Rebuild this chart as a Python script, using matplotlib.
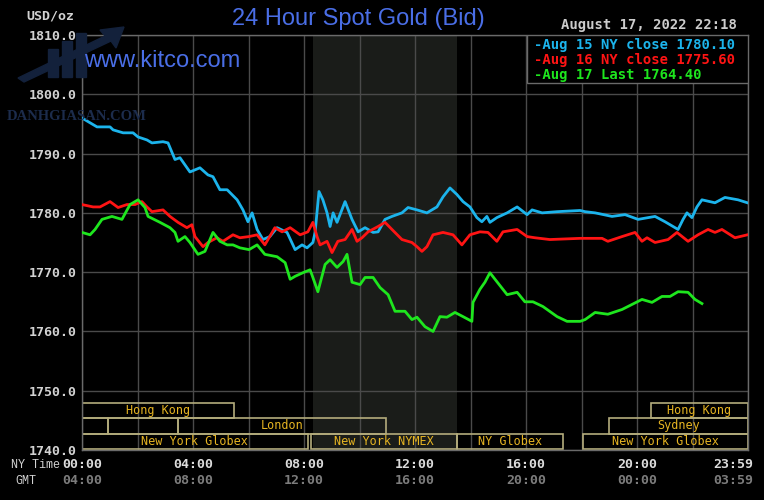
import matplotlib
matplotlib.use("Agg")
import matplotlib.pyplot as plt
from matplotlib.patches import Rectangle, Polygon
from matplotlib.transforms import blended_transform_factory

# ---- data (NY time in hours, price USD/oz) ----
aug15_hours = [0, 0.54, 1.01, 1.12, 1.48, 1.84, 2.02, 2.34, 2.52, 2.92, 3.10, 3.35, 3.53, 3.89,
               4.25, 4.54, 4.72, 4.97, 5.23, 5.59, 5.80, 5.98, 6.13, 6.31, 6.52, 6.77, 7.03,
               7.39, 7.68, 7.93, 8.11, 8.32, 8.40, 8.54, 8.68, 8.83, 8.94, 9.05, 9.19, 9.48,
               9.73, 9.95, 10.20, 10.49, 10.67, 10.92, 11.17, 11.53, 11.75, 12.07, 12.43,
               12.79, 13.01, 13.26, 13.51, 13.73, 13.98, 14.23, 14.41, 14.59, 14.70, 14.95,
               15.32, 15.68, 16.04, 16.22, 16.58, 17.12, 17.95, 18.13, 18.49, 19.10, 19.57,
               20.04, 20.65, 21.01, 21.48, 21.66, 21.80, 21.98, 22.16, 22.34, 22.81, 23.17,
               23.64, 23.98]
aug15_price = [1796.0, 1794.5, 1794.5, 1794.0, 1793.5, 1793.5, 1792.8, 1792.3, 1791.8, 1792.0,
               1791.8, 1789.0, 1789.3, 1786.9, 1787.6, 1786.4, 1786.1, 1783.9, 1783.9, 1782.2,
               1780.5, 1778.5, 1780.0, 1777.2, 1775.5, 1776.0, 1777.5, 1776.7, 1773.8, 1774.6,
               1774.1, 1775.0, 1776.7, 1783.6, 1782.2, 1780.0, 1777.7, 1780.0, 1778.4, 1781.9,
               1778.9, 1776.8, 1777.5, 1776.7, 1776.8, 1778.9, 1779.4, 1780.0, 1780.9, 1780.5,
               1780.0, 1781.0, 1782.7, 1784.2, 1783.1, 1781.9, 1781.0, 1779.2, 1778.5, 1779.4,
               1778.4, 1779.2, 1780.0, 1781.0, 1779.7, 1780.5, 1780.0, 1780.2, 1780.4, 1780.2,
               1780.0, 1779.4, 1779.7, 1778.9, 1779.4, 1778.5, 1777.2, 1778.9, 1780.0, 1779.2,
               1781.0, 1782.2, 1781.7, 1782.6, 1782.2, 1781.7]

aug16_hours = [0, 0.40, 0.65, 1.01, 1.30, 1.62, 1.91, 2.16, 2.34, 2.52, 2.92, 3.17, 3.46, 3.78,
               3.96, 4.07, 4.36, 4.54, 4.86, 5.08, 5.44, 5.69, 6.02, 6.31, 6.59, 6.95, 7.21,
               7.50, 7.86, 8.14, 8.32, 8.47, 8.58, 8.83, 9.01, 9.22, 9.48, 9.73, 9.91, 10.09,
               10.31, 10.67, 10.92, 11.17, 11.53, 11.89, 12.07, 12.25, 12.43, 12.65, 13.01,
               13.37, 13.69, 13.98, 14.34, 14.63, 14.95, 15.17, 15.68, 16.04, 16.32, 16.86,
               17.95, 18.23, 18.74, 18.95, 19.46, 19.93, 20.18, 20.36, 20.65, 21.12, 21.44,
               21.84, 22.20, 22.56, 22.81, 23.06, 23.53, 23.98]
aug16_price = [1781.4, 1781.0, 1781.0, 1781.9, 1780.9, 1781.4, 1781.4, 1781.9, 1781.0, 1780.2,
               1780.5, 1779.4, 1778.4, 1777.5, 1778.0, 1776.0, 1774.3, 1775.0, 1775.8, 1775.2,
               1776.3, 1775.8, 1776.0, 1776.3, 1774.6, 1777.5, 1776.8, 1777.5, 1776.3, 1776.8,
               1778.4, 1776.0, 1774.6, 1775.2, 1773.3, 1775.2, 1775.5, 1777.2, 1775.2, 1775.8,
               1776.8, 1777.7, 1778.4, 1777.2, 1775.5, 1775.0, 1774.3, 1773.5, 1774.3, 1776.3,
               1776.7, 1776.3, 1774.6, 1776.3, 1776.8, 1776.7, 1775.2, 1776.8, 1777.2, 1776.0,
               1775.8, 1775.5, 1775.7, 1775.7, 1775.7, 1775.2, 1776.0, 1776.7, 1775.2, 1775.8,
               1775.0, 1775.5, 1776.7, 1775.2, 1776.3, 1777.2, 1776.7, 1777.2, 1775.8, 1776.3]

aug17_hours = [0, 0.29, 0.47, 0.72, 1.08, 1.44, 1.73, 2.02, 2.27, 2.38, 2.81, 3.17, 3.35, 3.46,
               3.71, 3.89, 4.18, 4.43, 4.72, 4.97, 5.23, 5.44, 5.69, 6.02, 6.31, 6.59, 7.03,
               7.32, 7.50, 7.68, 7.96, 8.22, 8.32, 8.50, 8.76, 8.94, 9.19, 9.41, 9.55, 9.73,
               10.02, 10.20, 10.49, 10.74, 11.03, 11.28, 11.64, 11.89, 12.07, 12.36, 12.65,
               12.90, 13.15, 13.44, 13.73, 14.05, 14.09, 14.34, 14.52, 14.70, 14.95, 15.32,
               15.68, 15.96, 16.25, 16.61, 17.12, 17.48, 17.95, 18.13, 18.49, 18.95, 19.46,
               20.18, 20.54, 20.90, 21.19, 21.48, 21.84, 22.09, 22.34]
aug17_price = [1776.7, 1776.3, 1777.2, 1778.9, 1779.4, 1778.9, 1781.4, 1782.2, 1780.9, 1779.4,
               1778.4, 1777.5, 1776.7, 1775.2, 1776.0, 1775.0, 1773.0, 1773.5, 1776.7, 1775.2,
               1774.6, 1774.6, 1774.1, 1773.8, 1774.6, 1773.0, 1772.6, 1771.6, 1768.8, 1769.3,
               1769.9, 1770.4, 1769.1, 1766.7, 1771.3, 1772.1, 1770.8, 1771.8, 1773.0, 1768.3,
               1767.9, 1769.1, 1769.1, 1767.4, 1766.2, 1763.4, 1763.4, 1762.0, 1762.4, 1760.8,
               1760.0, 1762.5, 1762.4, 1763.2, 1762.5, 1761.7, 1764.9, 1767.1, 1768.3, 1769.9,
               1768.4, 1766.2, 1766.6, 1765.0, 1765.0, 1764.2, 1762.5, 1761.7, 1761.7, 1762.0,
               1763.2, 1762.9, 1763.7, 1765.4, 1764.9, 1765.9, 1765.9, 1766.7, 1766.6, 1765.4,
               1764.7]

legend_labels = ["-Aug 15 NY close 1780.10", "-Aug 16 NY close 1775.60", "-Aug 17 Last 1764.40"]
y_ticks = [1740, 1750, 1760, 1770, 1780, 1790, 1800, 1810]
ny_tick_hours = [0, 4, 8, 12, 16, 20, 23.98]
ny_tick_labels = ["00:00", "04:00", "08:00", "12:00", "16:00", "20:00", "23:59"]
gmt_tick_labels = ["04:00", "08:00", "12:00", "16:00", "20:00", "00:00", "03:59"]
nymex_open, nymex_close = 8.33, 13.5

# trading sessions: row 0 = bottom
session_labels = ["Hong Kong", "", "", "London", "New York Globex", "New York NYMEX",
                  "NY Globex", "New York Globex", "Sydney", "Hong Kong"]
session_row = [2, 1, 1, 1, 0, 0, 0, 0, 1, 2]
session_start = [0.0, 0.0, 0.94, 3.47, 0.0, 8.27, 13.5, 18.04, 18.99, 20.5]
session_end = [5.48, 0.94, 3.47, 10.97, 8.13, 13.5, 17.33, 24.0, 24.0, 24.0]

# ---- styling ----
BG = "black"
GRID = "#4a4a4a"
C15, C16, C17 = "#1cb4ec", "#ff1414", "#1ee61e"
GOLD = "#e6b422"
BOXC = "#b4ac7c"
MONO = "DejaVu Sans Mono"

fig = plt.figure(figsize=(7.64, 5.0), dpi=100, facecolor=BG)
ax = fig.add_axes([82 / 764, 1 - 450 / 500, 666 / 764, 415 / 500])
ax.set_facecolor(BG)
ax.set_xlim(0, 24)
ax.set_ylim(1740, 1810)

ax.axvspan(nymex_open, nymex_close, color="#1a1c19", zorder=0, lw=0)

ax.set_xticks(range(0, 25, 2))
ax.set_xticklabels([])
ax.set_yticks(y_ticks)
ax.set_yticklabels([f"{v:.1f}" for v in y_ticks], fontfamily=MONO, fontweight="bold",
                   fontsize=9.5, color="#d2d2d2")
ax.tick_params(length=0, pad=4)
ax.grid(True, color=GRID, lw=1, zorder=1)
ax.set_axisbelow(True)
for s in ax.spines.values():
    s.set_color("#6a6a6a")
    s.set_linewidth(1)

ax.plot(aug15_hours, aug15_price, color=C15, lw=2, zorder=3)
ax.plot(aug16_hours, aug16_price, color=C16, lw=2, zorder=3)
ax.plot(aug17_hours, aug17_price, color=C17, lw=2, zorder=3)

# session boxes
row_edges = [1740.1, 1742.75, 1745.4, 1747.9]
for lab, r, x0, x1 in zip(session_labels, session_row, session_start, session_end):
    y0, y1 = row_edges[r], row_edges[r + 1]
    ax.add_patch(Rectangle((x0, y0), x1 - x0, y1 - y0, fill=False, ec=BOXC, lw=1.2, zorder=2))
    if lab:
        ax.text((x0 + x1) / 2, (y0 + y1) / 2, lab, color=GOLD, fontsize=8.5, fontfamily=MONO,
                ha="center", va="center", zorder=4)

# legend box
ax.add_patch(Rectangle((0.668, 0.885), 0.332, 0.115, transform=ax.transAxes, fc=BG,
                       ec="#6a6a6a", lw=1, zorder=5))
for lab, c, yy in zip(legend_labels, [C15, C16, C17], [0.977, 0.940, 0.904]):
    ax.text(0.679, yy, lab, transform=ax.transAxes, color=c, fontsize=10, fontfamily=MONO,
            fontweight="bold", va="center", ha="left", zorder=6)

# time axis labels
trans = blended_transform_factory(ax.transData, fig.transFigure)
for h, ny, gmt in zip(ny_tick_hours, ny_tick_labels, gmt_tick_labels):
    ha = "right" if h > 23 else "center"
    xx = h + 0.2 if h > 23 else h
    ax.text(xx, 1 - 465 / 500, ny, transform=trans, color="#dcdcdc", fontsize=9.5,
            fontfamily=MONO, fontweight="bold", ha=ha, va="center")
    ax.text(xx, 1 - 481 / 500, gmt, transform=trans, color="#7c7c7c", fontsize=9.5,
            fontfamily=MONO, fontweight="bold", ha=ha, va="center")
fig.text(60 / 764, 1 - 465 / 500, "NY Time", color="#d2d2d2", fontsize=8.5,
         fontfamily="Liberation Mono", ha="right", va="center")
fig.text(36 / 764, 1 - 481 / 500, "GMT", color="#d2d2d2", fontsize=8.5,
         fontfamily="Liberation Mono", ha="right", va="center")

# header texts
fig.text(26 / 764, 1 - 16 / 500, "USD/oz", color="#d2d2d2", fontsize=9.5, fontfamily=MONO,
         fontweight="bold", ha="left", va="center")
fig.text(358 / 764, 1 - 19 / 500, "24 Hour Spot Gold (Bid)", color="#4a6ee6", fontsize=17,
         fontfamily="Liberation Sans", ha="center", va="center")
fig.text(737 / 764, 1 - 25 / 500, "August 17, 2022 22:18", color="#cccccc", fontsize=10,
         fontfamily=MONO, fontweight="bold", ha="right", va="center")
fig.text(84 / 764, 1 - 61 / 500, "www.kitco.com", color="#4a6ee6", fontsize=17,
         fontfamily="Liberation Sans", ha="left", va="center", zorder=6)

# faint watermark logo
wm = "#13213b"
for bx, bh in [(48, 28), (62, 36), (76, 44)]:
    fig.patches.append(Rectangle((bx / 764, 1 - 77 / 500), 10 / 764, bh / 500,
                                 transform=fig.transFigure, color=wm, zorder=0.5))
fig.patches.append(Polygon([(18 / 764, 1 - 78 / 500), (105 / 764, 1 - 36 / 500),
                            (100 / 764, 1 - 30 / 500), (124 / 764, 1 - 27 / 500),
                            (116 / 764, 1 - 48 / 500), (111 / 764, 1 - 41 / 500),
                            (24 / 764, 1 - 82 / 500)], closed=True,
                           transform=fig.transFigure, color=wm, zorder=0.5))
fig.text(7 / 764, 1 - 117 / 500, "DANHGIASAN.COM", color="#1c2c4c", fontsize=10.5,
         fontfamily="Liberation Serif", fontweight="bold", ha="left", va="center", zorder=6)

fig.savefig("out.png", dpi=100, facecolor=BG)
